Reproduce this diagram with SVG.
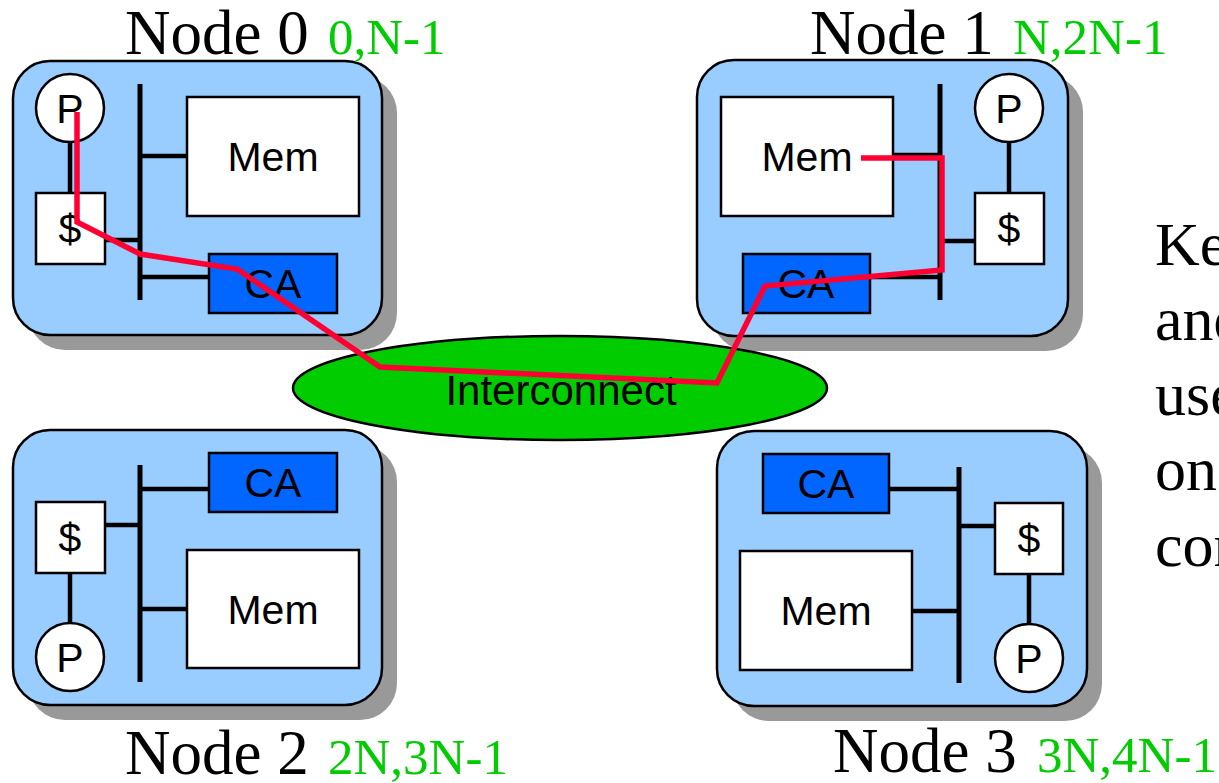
<svg xmlns="http://www.w3.org/2000/svg" width="1219" height="783" viewBox="0 0 1219 783">
  <style>
    .shadow { fill: #999999; }
    .node { fill: #99CCFF; stroke: #000; stroke-width: 2.5; }
    .box { fill: #FFFFFF; stroke: #000; stroke-width: 2.5; }
    .ca { fill: #0066FF; stroke: #000; stroke-width: 2.5; }
    .proc { fill: #FFFFFF; stroke: #000; stroke-width: 2.5; }
    .bus { stroke: #000; stroke-width: 5; fill: none; }
    .wire { stroke: #000; stroke-width: 4.5; fill: none; }
    .lbl { font-family: "Liberation Sans", Arial, sans-serif; font-size: 41px; fill: #000; text-anchor: middle; }
    .title { font-family: "Liberation Serif", "Times New Roman", serif; font-size: 63px; fill: #000; }
    .range { font-family: "Liberation Serif", "Times New Roman", serif; font-size: 51px; fill: #00CC00; }
    .path { stroke: #FF0033; stroke-width: 5.5; fill: none; stroke-linejoin: miter; }
  </style>

  <!-- Node 0 -->
  <g id="node0">
    <rect class="shadow" x="28" y="76" width="369" height="274" rx="37"/>
    <rect class="node" x="13" y="61" width="369" height="274" rx="37"/>
    <line class="bus" x1="140" y1="84" x2="140" y2="300"/>
    <line class="wire" x1="140" y1="156" x2="187" y2="156"/>
    <line class="wire" x1="105" y1="240" x2="140" y2="240"/>
    <line class="wire" x1="140" y1="277" x2="209" y2="277"/>
    <line class="wire" x1="70" y1="142" x2="70" y2="193"/>
    <rect class="box" x="187" y="97" width="172" height="119"/>
    <text class="lbl" x="273" y="171">Mem</text>
    <rect class="box" x="36" y="193" width="69" height="71"/>
    <text class="lbl" x="70" y="243">$</text>
    <rect class="ca" x="209" y="254" width="128" height="59"/>
    <text class="lbl" x="273" y="298">CA</text>
    <circle class="proc" cx="70" cy="108" r="34"/>
    <text class="lbl" x="70" y="123">P</text>
    <text class="title" x="125" y="54">Node 0</text>
    <text class="range" x="328" y="54">0,N-1</text>
  </g>

  <!-- Node 1 -->
  <g id="node1">
    <rect class="shadow" x="712" y="75" width="371" height="276" rx="37"/>
    <rect class="node" x="697" y="60" width="371" height="276" rx="37"/>
    <line class="bus" x1="940" y1="84" x2="940" y2="300"/>
    <line class="wire" x1="893" y1="155" x2="940" y2="155"/>
    <line class="wire" x1="940" y1="241" x2="975" y2="241"/>
    <line class="wire" x1="870" y1="277" x2="940" y2="277"/>
    <line class="wire" x1="1009" y1="142" x2="1009" y2="193"/>
    <rect class="box" x="721" y="97" width="172" height="119"/>
    <text class="lbl" x="807" y="171">Mem</text>
    <rect class="box" x="975" y="193" width="69" height="71"/>
    <text class="lbl" x="1009" y="243">$</text>
    <rect class="ca" x="743" y="254" width="127" height="59"/>
    <text class="lbl" x="806" y="298">CA</text>
    <circle class="proc" cx="1009" cy="108" r="34"/>
    <text class="lbl" x="1009" y="123">P</text>
    <text class="title" x="810" y="54">Node 1</text>
    <text class="range" x="1013" y="54">N,2N-1</text>
  </g>

  <!-- Node 2 -->
  <g id="node2">
    <rect class="shadow" x="28" y="445" width="369" height="275" rx="37"/>
    <rect class="node" x="13" y="430" width="369" height="275" rx="37"/>
    <line class="bus" x1="140" y1="465" x2="140" y2="682"/>
    <line class="wire" x1="140" y1="489" x2="209" y2="489"/>
    <line class="wire" x1="105" y1="525" x2="140" y2="525"/>
    <line class="wire" x1="140" y1="609" x2="187" y2="609"/>
    <line class="wire" x1="70" y1="573" x2="70" y2="623"/>
    <rect class="ca" x="209" y="453" width="128" height="59"/>
    <text class="lbl" x="273" y="497">CA</text>
    <rect class="box" x="36" y="502" width="69" height="71"/>
    <text class="lbl" x="70" y="552">$</text>
    <rect class="box" x="187" y="550" width="172" height="118"/>
    <text class="lbl" x="273" y="624">Mem</text>
    <circle class="proc" cx="70" cy="657" r="34"/>
    <text class="lbl" x="70" y="672">P</text>
    <text class="title" x="125" y="774">Node 2</text>
    <text class="range" x="328" y="774">2N,3N-1</text>
  </g>

  <!-- Node 3 -->
  <g id="node3">
    <rect class="shadow" x="732" y="446" width="370" height="275" rx="37"/>
    <rect class="node" x="717" y="431" width="370" height="275" rx="37"/>
    <line class="bus" x1="959" y1="467" x2="959" y2="683"/>
    <line class="wire" x1="889" y1="489" x2="959" y2="489"/>
    <line class="wire" x1="959" y1="526" x2="995" y2="526"/>
    <line class="wire" x1="912" y1="611" x2="959" y2="611"/>
    <line class="wire" x1="1029" y1="574" x2="1029" y2="624"/>
    <rect class="ca" x="763" y="454" width="126" height="59"/>
    <text class="lbl" x="826" y="498">CA</text>
    <rect class="box" x="995" y="503" width="68" height="71"/>
    <text class="lbl" x="1029" y="553">$</text>
    <rect class="box" x="740" y="551" width="172" height="119"/>
    <text class="lbl" x="826" y="625">Mem</text>
    <circle class="proc" cx="1029" cy="658" r="34"/>
    <text class="lbl" x="1029" y="673">P</text>
    <text class="title" x="833" y="772">Node 3</text>
    <text class="range" x="1037" y="772">3N,4N-1</text>
  </g>

  <!-- Interconnect -->
  <g id="interconnect">
    <ellipse cx="560" cy="388" rx="267" ry="52" fill="#00CC00" stroke="#000" stroke-width="2.5"/>
    <text class="lbl" x="561" y="405" style="font-size:42px">Interconnect</text>
  </g>

  <!-- Remote access route: P of node 0 to memory of node 1 -->
  <g id="connectors">
    <polyline class="path" points="77,112 77,222 140,254 237,269 380,367 717,383 765,286 942,270 942,158 861,158"/>
  </g>

  <!-- Side note, running off the right edge -->
  <g id="note" class="title" style="font-size:62px">
    <text x="1155" y="265">Ke</text>
    <text x="1155" y="340">and</text>
    <text x="1155" y="415">use</text>
    <text x="1155" y="490">on</text>
    <text x="1155" y="566">con</text>
  </g>
</svg>
